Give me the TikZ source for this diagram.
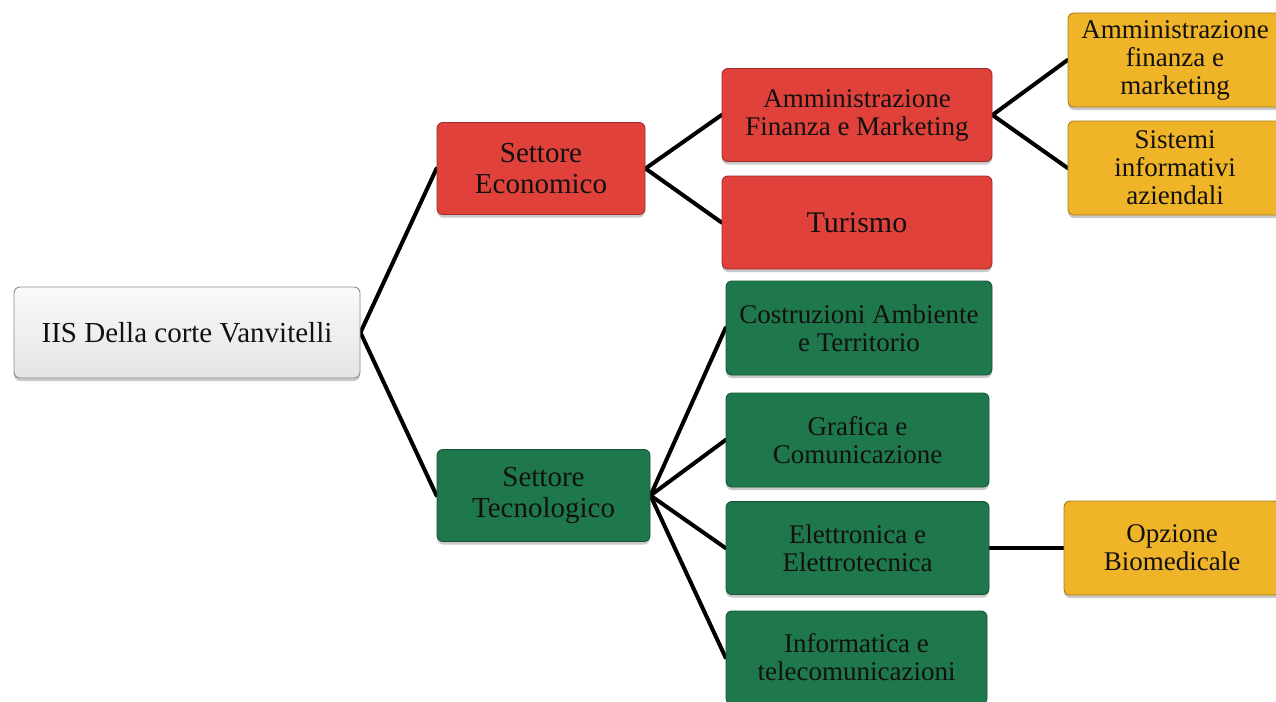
\documentclass[tikz,border=0pt]{standalone}
\usepackage{fontspec}
\setmainfont{Liberation Serif}
\usetikzlibrary{shadows,backgrounds}

\definecolor{ecored}{HTML}{E0413A}
\definecolor{tecgreen}{HTML}{1E784B}
\definecolor{optyellow}{HTML}{F0B428}
\definecolor{rootgray}{HTML}{E4E4E6}
\definecolor{inkdark}{HTML}{111111}

\tikzset{
  box/.style={rectangle, rounded corners=6pt, align=center, text=inkdark,
    line width=0.9pt, inner sep=2pt,
    drop shadow={shadow xshift=0pt, shadow yshift=-3pt, opacity=0.35, fill=black!60},
    font=\fontsize{27}{28}\selectfont},
  rootbox/.style={box, draw=black!45, top color=white!96!gray, bottom color=rootgray,
    font=\fontsize{29}{30}\selectfont},
  redbox/.style={box, fill=ecored, draw=ecored!70!black},
  greenbox/.style={box, fill=tecgreen, draw=tecgreen!70!black},
  yellowbox/.style={box, fill=optyellow, draw=optyellow!70!black},
  link/.style={line width=4pt, draw=black, line cap=round}
}

\begin{document}
\begin{tikzpicture}[x=1pt,y=-1pt]
  \useasboundingbox (0,0) rectangle (1276,701);
  \clip (0,0) rectangle (1276,701);

  % root of the tree
  \node[rootbox, minimum width=346pt, minimum height=91pt] (root) at (187,332.5)
    {IIS Della corte Vanvitelli};

  % the two sectors
  \node[redbox, minimum width=208pt, minimum height=92pt,
        font=\fontsize{29}{31}\selectfont] (eco) at (541,168.5)
    {Settore\\Economico};
  \node[greenbox, minimum width=213pt, minimum height=92pt,
        font=\fontsize{29}{31}\selectfont] (tec) at (543.5,495.5)
    {Settore\\Tecnologico};

  % economic branches
  \node[redbox, minimum width=270pt, minimum height=93pt] (afm) at (857,115)
    {Amministrazione\\Finanza e Marketing};
  \node[redbox, minimum width=270pt, minimum height=93pt,
        font=\fontsize{30}{31}\selectfont] (tur) at (857,222.5)
    {Turismo};

  % options of AFM
  \node[yellowbox, minimum width=214pt, minimum height=94pt] (afmopt) at (1175,60)
    {Amministrazione\\finanza e\\marketing};
  \node[yellowbox, minimum width=214pt, minimum height=94pt] (sia) at (1175,168)
    {Sistemi\\informativi\\aziendali};

  % technological branches
  \node[greenbox, minimum width=266pt, minimum height=94pt] (cat) at (859,328)
    {Costruzioni Ambiente\\e Territorio};
  \node[greenbox, minimum width=263pt, minimum height=94pt] (gra) at (857.5,440)
    {Grafica e\\Comunicazione};
  \node[greenbox, minimum width=263pt, minimum height=93pt] (ele) at (857.5,548)
    {Elettronica e\\Elettrotecnica};
  \node[greenbox, minimum width=261pt, minimum height=93pt] (inf) at (856.5,657.5)
    {Informatica e\\telecomunicazioni};

  % option of Elettronica
  \node[yellowbox, minimum width=216pt, minimum height=94pt] (bio) at (1172,548)
    {Opzione\\Biomedicale};

  % connectors
  \begin{scope}[on background layer]
    \draw[link] (root.east) -- (eco.west);
    \draw[link] (root.east) -- (tec.west);
    \draw[link] (eco.east) -- (afm.west);
    \draw[link] (eco.east) -- (tur.west);
    \draw[link] (afm.east) -- (afmopt.west);
    \draw[link] (afm.east) -- (sia.west);
    \draw[link] (tec.east) -- (cat.west);
    \draw[link] (tec.east) -- (gra.west);
    \draw[link] (tec.east) -- (ele.west);
    \draw[link] (tec.east) -- (inf.west);
    \draw[link] (ele.east) -- (bio.west);
  \end{scope}
\end{tikzpicture}
\end{document}
